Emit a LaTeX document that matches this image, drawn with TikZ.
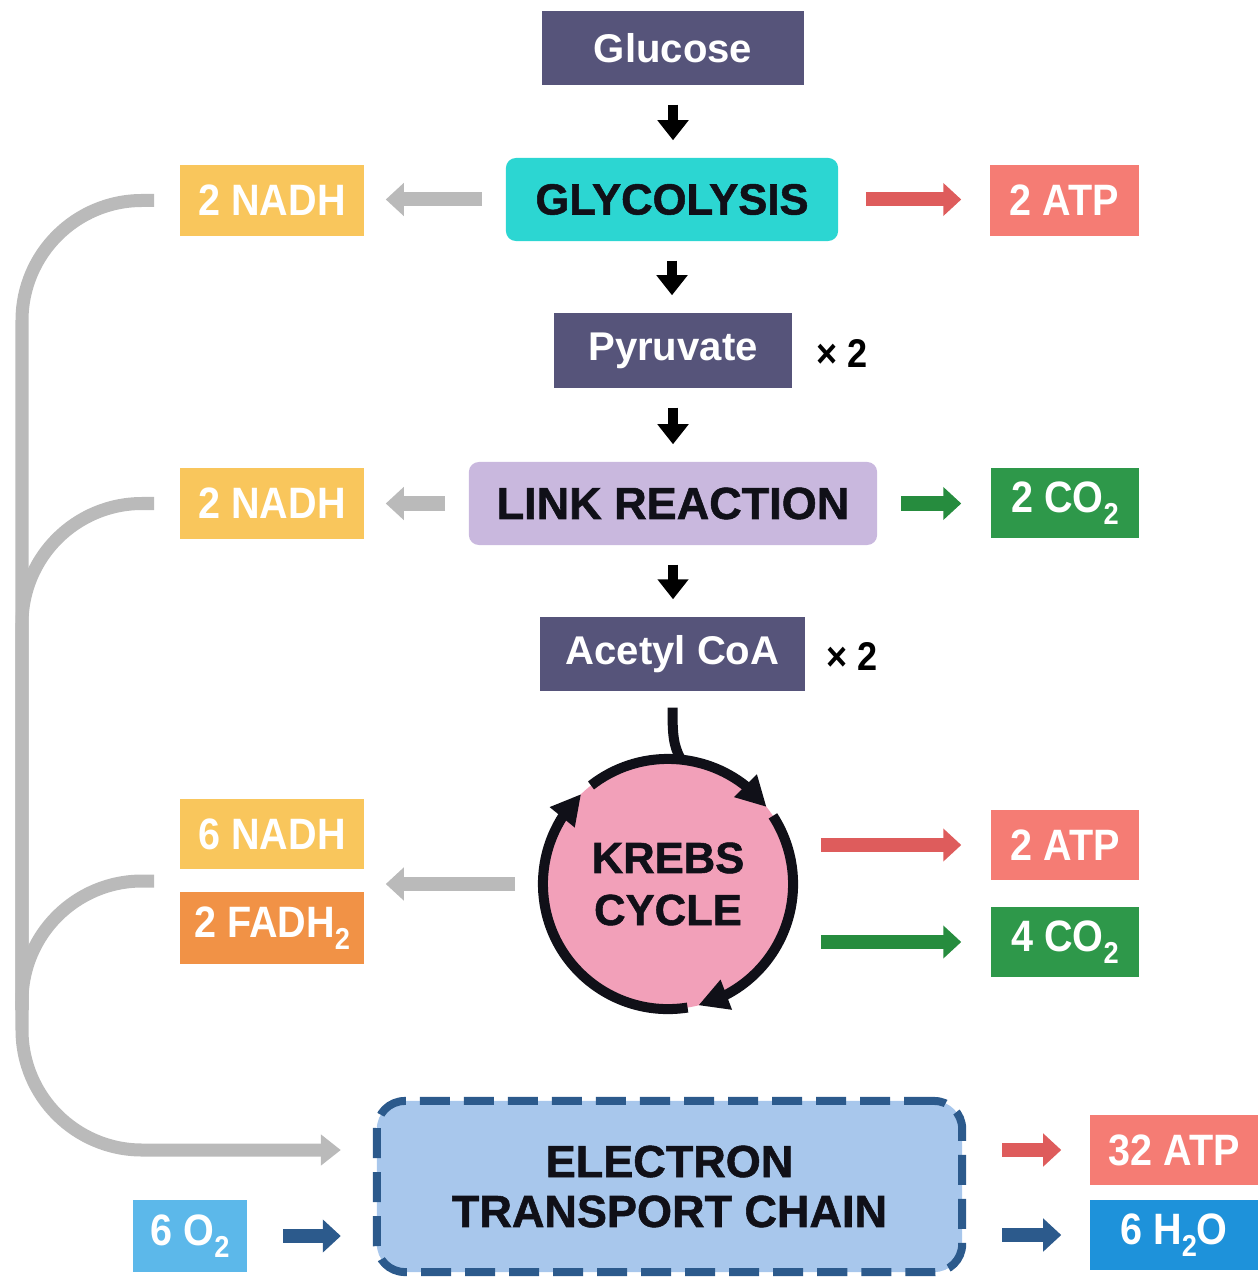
\documentclass[tikz,border=0pt]{standalone}
\usepackage{fontspec}
\setmainfont{Liberation Sans}
\newfontfamily\narrowsans[FakeStretch=0.9]{Liberation Sans}
\newfontfamily\heavysans[BoldFeatures={FakeBold=1.2}]{Liberation Sans}
\usepackage{xcolor}
\usetikzlibrary{calc}
\usetikzlibrary{arrows.meta}
\usetikzlibrary{bending}

\newcommand{\subtwo}{\raisebox{-0.28em}{\fontsize{8.6}{8.6}\selectfont 2}}

\definecolor{slateblue}{RGB}{86,84,122}
\definecolor{glycocyan}{RGB}{44,214,210}
\definecolor{linklilac}{RGB}{201,184,222}
\definecolor{nadhyellow}{RGB}{249,198,92}
\definecolor{fadhorange}{RGB}{241,146,70}
\definecolor{atpsalmon}{RGB}{245,124,116}
\definecolor{atparrow}{RGB}{222,92,92}
\definecolor{cotwogreen}{RGB}{46,152,74}
\definecolor{coarrow}{RGB}{38,140,62}
\definecolor{krebspink}{RGB}{242,160,185}
\definecolor{etcfill}{RGB}{168,199,236}
\definecolor{etcblue}{RGB}{44,90,140}
\definecolor{oxyblue}{RGB}{92,184,234}
\definecolor{waterblue}{RGB}{30,146,218}
\definecolor{busgray}{RGB}{186,186,186}
\definecolor{inkdark}{RGB}{16,16,24}

\begin{document}
\begin{tikzpicture}[x=0.01cm,y=0.01cm]
    \tikzstyle{molecule}=[fill=slateblue,text=white,inner sep=0pt,font=\fontsize{11.4}{13}\selectfont\bfseries]
    \tikzstyle{stage}=[rounded corners=0.1cm,text=inkdark,inner sep=0pt,align=center,font=\heavysans\fontsize{12.4}{14.8}\selectfont\bfseries]
    \tikzstyle{product}=[text=white,inner sep=0pt,font=\narrowsans\bfseries\fontsize{12.5}{14}\selectfont]
    \tikzstyle{times two}=[text=black,font=\narrowsans\bfseries\fontsize{11.4}{13}\selectfont]
    \tikzstyle{down arrow}=[-{Triangle[length=0.2cm,width=0.3cm]},line width=0.1cm,color=black,shorten <=0.19cm,shorten >=0.17cm]
    \tikzstyle{side arrow}=[-{Triangle[length=0.18cm,width=0.32cm]},line width=0.14cm]
    \tikzstyle{bus line}=[line width=0.13cm,color=busgray,rounded corners=1.2cm]
    \tikzstyle{cycle arrow}=[-{Triangle[length=0.3cm,width=0.3cm,flex]},line width=0.1cm,color=inkdark]

    \useasboundingbox (0,0) rectangle (1259,-1283);

    % Main chain
    \node[molecule,minimum width=2.62cm,minimum height=0.74cm] (glucose) at (673,-48) {Glucose};
    \node[stage,fill=glycocyan,minimum width=3.32cm,minimum height=0.83cm] (glyco) at (672,-199.5) {GLYCOLYSIS};
    \node[molecule,minimum width=2.38cm,minimum height=0.75cm] (pyruvate) at (673,-350.5) {Pyruvate};
    \node[times two] (pyrtimes) at (842,-354) {× 2};
    \node[stage,fill=linklilac,minimum width=4.08cm,minimum height=0.83cm,font=\heavysans\fontsize{12.8}{14.8}\selectfont\bfseries] (link) at (673,-503.5) {LINK REACTION};
    \node[molecule,minimum width=2.65cm,minimum height=0.74cm] (acetyl) at (672.5,-654) {Acetyl CoA};
    \node[times two] (acetimes) at (852,-657) {× 2};
    \node[circle,fill=krebspink,minimum size=2.5cm,inner sep=0pt,align=center,text=inkdark,font=\heavysans\fontsize{12.4}{14.8}\selectfont\bfseries] (krebs) at (668,-884) {KREBS\\CYCLE};
    \node[stage,fill=etcfill,draw=etcblue,line width=0.08cm,dash pattern=on 0.3cm off 0.14cm,rounded corners=0.28cm,minimum width=5.85cm,minimum height=1.71cm,font=\heavysans\fontsize{12.8}{14.2}\selectfont\bfseries] (etc) at (669.5,-1186.5) {ELECTRON\\TRANSPORT CHAIN};

    % Products
    \node[product,fill=nadhyellow,minimum width=1.84cm,minimum height=0.71cm] (nadh1) at (272,-200.5) {2 NADH};
    \node[product,fill=atpsalmon,minimum width=1.49cm,minimum height=0.71cm] (atp1) at (1064.5,-200.5) {2 ATP};
    \node[product,fill=nadhyellow,minimum width=1.84cm,minimum height=0.70cm] (nadh2) at (272,-503.5) {2 NADH};
    \node[product,fill=cotwogreen,minimum width=1.48cm,minimum height=0.70cm] (co2a) at (1065,-503) {2 CO\subtwo};
    \node[product,fill=nadhyellow,minimum width=1.84cm,minimum height=0.70cm] (nadh3) at (272,-834) {6 NADH};
    \node[product,fill=fadhorange,minimum width=1.84cm,minimum height=0.71cm] (fadh) at (272,-928) {2 FADH\subtwo};
    \node[product,fill=atpsalmon,minimum width=1.48cm,minimum height=0.70cm] (atp2) at (1065,-845) {2 ATP};
    \node[product,fill=cotwogreen,minimum width=1.48cm,minimum height=0.70cm] (co2b) at (1065,-942) {4 CO\subtwo};
    \node[product,fill=oxyblue,minimum width=1.13cm,minimum height=0.72cm] (o2) at (190,-1236) {6 O\subtwo};
    \node[product,fill=atpsalmon,minimum width=1.68cm,minimum height=0.70cm] (atp3) at (1174,-1150) {32 ATP};
    \node[product,fill=waterblue,minimum width=1.68cm,minimum height=0.70cm] (h2o) at (1174,-1235) {6 H\subtwo O};

    % Down the chain
    \draw[down arrow] (glucose.south) -- (glucose.south |- glyco.north);
    \draw[down arrow] (glyco.south) -- (glyco.south |- pyruvate.north);
    \draw[down arrow] (pyruvate.south) -- (pyruvate.south |- link.north);
    \draw[down arrow] (link.south) -- (link.south |- acetyl.north);

    % Side products
    \draw[side arrow,busgray,shorten <=0.23cm,shorten >=0.21cm] (glyco.west) -- (glyco.west -| nadh1.east);
    \draw[side arrow,atparrow,shorten <=0.27cm,shorten >=0.28cm] (glyco.east) -- (glyco.east -| atp1.west);
    \draw[side arrow,busgray,shorten <=0.23cm,shorten >=0.21cm] (link.west) -- (link.west -| nadh2.east);
    \draw[side arrow,coarrow,shorten <=0.23cm,shorten >=0.29cm] (link.east) -- (link.east -| co2a.west);
    \draw[side arrow,busgray,shorten <=0.27cm,shorten >=0.21cm] (krebs.west) -- (krebs.west -| nadh3.east);
    \draw[side arrow,atparrow,shorten <=0.27cm,shorten >=0.29cm] (krebs.east |- atp2.west) -- (atp2.west);
    \draw[side arrow,coarrow,shorten <=0.27cm,shorten >=0.29cm] (krebs.east |- co2b.west) -- (co2b.west);

    % Electron transport chain
    \draw[side arrow,etcblue,shorten <=0.36cm,shorten >=0.32cm] (o2.east) -- (o2.east -| etc.west);
    \draw[side arrow,atparrow,shorten <=0.36cm,shorten >=0.28cm] (etc.east |- atp3.west) -- (atp3.west);
    \draw[side arrow,etcblue,shorten <=0.36cm,shorten >=0.28cm] (etc.east |- h2o.west) -- (h2o.west);

    % Carrier bus
    \coordinate (bus corner) at (22,-1150);
    \coordinate (trunk) at (22,-1010);
    \coordinate (krebs out) at ($(nadh3.west)!0.5!(fadh.west)+(-25,0)$);
    \draw[bus line,-{Triangle[length=0.2cm,width=0.3cm]},shorten >=0.32cm] ([xshift=-0.25cm]nadh1.west) -| (bus corner) -- (bus corner -| etc.west);
    \draw[bus line] ([xshift=-0.25cm]nadh2.west) -| (trunk);
    \draw[bus line] (krebs out) -| (trunk);

    % Krebs cycle ring
    \coordinate (tail) at ($(acetyl.south)+(0,-16)$);
    \coordinate (tail end) at ($(krebs.center)+(84:1.25cm)$);
    \draw[line width=0.1cm,inkdark] (tail) .. controls ($(tail)+(0,-26)$) and ($(tail end)+(-8,14)$) .. (tail end);
    \draw[cycle arrow] ($(krebs.center)+(128:1.25cm)$) arc[start angle=128,end angle=38,radius=1.25cm];
    \draw[cycle arrow] ($(krebs.center)+(33:1.25cm)$) arc[start angle=33,end angle=-76,radius=1.25cm];
    \draw[cycle arrow] ($(krebs.center)+(-81:1.25cm)$) arc[start angle=-81,end angle=-226,radius=1.25cm];

\end{tikzpicture}
\end{document}
